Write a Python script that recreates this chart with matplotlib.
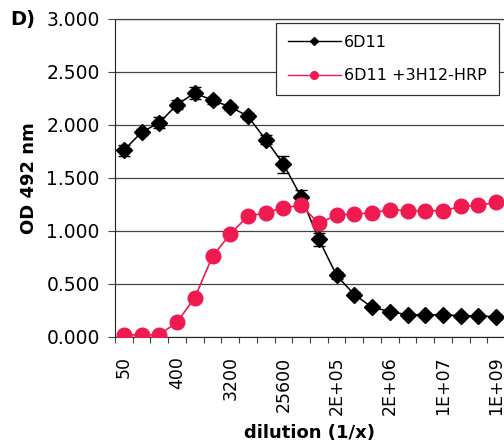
import matplotlib
matplotlib.use("Agg")
import matplotlib.pyplot as plt
from matplotlib.lines import Line2D
import numpy as np

plt.rcParams['font.family'] = ['DejaVu Sans']

# ---- data ----
dilutions = [50, 100, 200, 400, 800, 1600, 3200, 6400, 12800, 25600, 51200,
             102400, 204800, 409600, 819200, 1638400, 3276800, 6553600,
             13107200, 26214400, 52428800, 104857600]
tick_labels = ["50", "400", "3200", "25600", "2E+05", "2E+06", "1E+07", "1E+09"]
series_a_name = "6D11"
series_a = [1.76, 1.93, 2.02, 2.19, 2.30, 2.23, 2.17, 2.08, 1.86, 1.63, 1.32,
            0.92, 0.58, 0.40, 0.28, 0.24, 0.21, 0.21, 0.21, 0.20, 0.20, 0.19]
series_a_err = [0.05, 0.03, 0.05, 0.04, 0.06, 0.03, 0.03, 0.03, 0.04, 0.08, 0.07,
                0.06, 0.03, 0.02, 0.02, 0.02, 0.02, 0.02, 0.02, 0.02, 0.02, 0.02]
series_b_name = "6D11 +3H12-HRP"
series_b = [0.02, 0.02, 0.02, 0.14, 0.37, 0.76, 0.97, 1.14, 1.17, 1.22, 1.24,
            1.07, 1.15, 1.16, 1.17, 1.20, 1.19, 1.19, 1.19, 1.23, 1.24, 1.27]

W, H = 504, 445
fig = plt.figure(figsize=(W / 100, H / 100), dpi=100)
left, right, top, bottom = 115, 505.0, 18.7, 337
ax = fig.add_axes([left / W, 1 - bottom / H, (right - left) / W, (bottom - top) / H])

x = np.arange(len(dilutions))
red = '#ee1a50'

ax.errorbar(x, series_a, yerr=series_a_err, color='black', lw=1.1,
            marker='D', ms=8.5, mfc='black', mec='black', ecolor='black',
            elinewidth=1.0, capsize=4, capthick=1.0, zorder=3)
ax.plot(x, series_b, color=red, lw=1.2, marker='o', ms=10.5, mfc=red, mec=red,
        zorder=4)

ax.set_xlim(-0.5, len(dilutions) - 0.5)
ax.set_ylim(0, 3.0)
yt = np.arange(0, 3.01, 0.5)
ax.set_yticks(yt)
ax.set_yticklabels([f"{v:.3f}" for v in yt], fontsize=13.5)
ax.yaxis.grid(True, color='#444444', lw=0.9)
ax.set_axisbelow(True)

ax.set_xticks(x[::3])
ax.set_xticklabels(tick_labels, rotation=90, fontsize=12.5)
ax.set_xticks(np.arange(-0.5, len(dilutions), 1.0), minor=True)
ax.tick_params(axis='x', which='major', length=0, pad=14)
ax.tick_params(axis='x', which='minor', length=4, width=0.8, color='#444444')
ax.tick_params(axis='y', length=5, width=0.8, color='#444444', pad=6)

ax.spines['right'].set_visible(False)
ax.spines['top'].set_color('#444444')
ax.spines['top'].set_linewidth(0.9)
ax.spines['left'].set_color('#222222')
ax.spines['bottom'].set_color('#222222')

ax.set_ylabel("OD 492 nm", fontsize=13, fontweight='bold', labelpad=6)
ax.set_xlabel("dilution (1/x)", fontsize=13, fontweight='bold', labelpad=6)

fig.text(23 / W, 1 - 19 / H, "D)", fontsize=14, fontweight='bold', ha='center', va='center')

handles = [Line2D([], [], color='black', lw=1.0, marker='D', ms=4.5, mfc='black', mec='black'),
           Line2D([], [], color=red, lw=1.0, marker='o', ms=5.5, mfc=red, mec=red)]
leg = ax.legend(handles, [series_a_name, series_b_name], loc='upper left',
                bbox_to_anchor=(276 / W, 1 - 23 / H),
                bbox_transform=fig.transFigure, borderaxespad=0, fontsize=11.5,
                frameon=True, fancybox=False, edgecolor='#333333', framealpha=1,
                handlelength=3.3, handletextpad=0.2, labelspacing=1.15,
                borderpad=0.75)
leg.get_frame().set_linewidth(0.9)

fig.savefig("out.png", dpi=100)
